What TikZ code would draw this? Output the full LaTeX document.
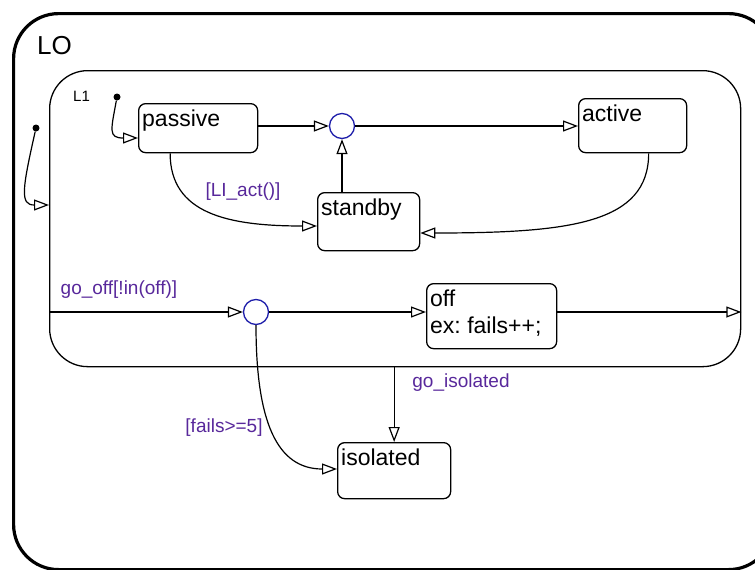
\documentclass[tikz,border=0pt]{standalone}
\usepackage{fontspec}
\setmainfont{Liberation Sans}
\usetikzlibrary{arrows.meta, positioning}
\definecolor{guardc}{RGB}{88,40,155}
\definecolor{juncc}{RGB}{30,30,170}

\begin{document}
\begin{tikzpicture}[x=1pt, y=-1pt]

\tikzset{chart/.style = {draw, anchor=north west, inner sep=0pt}}
\tikzset{state/.style = {chart, line width=1.3pt, rounded corners=7pt, label={[statetext]north west:#1}}}
\tikzset{statetext/.style = {anchor=north west, inner xsep=4pt, inner ysep=7pt, align=left, font=\fontsize{23}{27}\selectfont}}
\tikzset{junction/.style = {shape=circle, draw=juncc, line width=1.3pt, minimum size=25pt, inner sep=0pt}}
\tikzset{initdot/.style = {shape=circle, fill, minimum size=7pt, inner sep=0pt}}
\tikzset{guard/.style = {text=guardc, inner sep=0pt, font=\fontsize{19}{22}\selectfont}}
\tikzset{trans/.style = {-{Triangle[open, length=15pt, width=11pt]}, line width=1.2pt}}

\useasboundingbox (0,0) rectangle (755,570);
\clip (0,0) rectangle (755,570);

% superstates
\node[chart, line width=3.2pt, rounded corners=45pt, minimum width=760pt, minimum height=556pt] (lo) at (12,12) {};
\node[anchor=north west, inner sep=0pt, font=\fontsize{26}{30}\selectfont] (loname) at (37,36) {LO};
\node[chart, line width=1.3pt, rounded corners=38pt, minimum width=691pt, minimum height=296pt] (l1) at (49,70) {};
\node[anchor=north west, inner sep=0pt, font=\fontsize{15}{18}\selectfont] (l1name) at (73,91) {L1};

% states
\node[state=passive, minimum width=119pt, minimum height=49pt] (passive) at (138,103) {};
\node[state=active, minimum width=108pt, minimum height=54pt] (active) at (578,98) {};
\node[state=standby, minimum width=102pt, minimum height=58pt] (standby) at (317,192) {};
\node[state={off\\ex:\ fails++;}, minimum width=130pt, minimum height=65pt] (off) at (426,283) {};
\node[state=isolated, minimum width=113pt, minimum height=56pt] (isolated) at (337,442) {};

% junctions and default transitions
\node[junction] (j1) at (342,126) {};
\node[junction] (j2) at (256,312) {};
\node[initdot] (l1init) at (36,128) {};
\node[initdot] (pinit) at (117,97) {};

% guards
\node[guard] (actlbl) at (243,192) {[LI\_act()]};
\node[guard] (offlbl) at (119,290) {go\_off[!in(off)]};
\node[guard] (isolbl) at (461,383) {go\_isolated};
\node[guard] (faillbl) at (224,428) {[fails>=5]};

% transitions
\draw[trans] (l1init) .. controls (22,190) and (20,205) .. (l1.west |- 0,205);
\draw[trans] (pinit) .. controls (111,130) and (108,138) .. (passive.west |- 0,138);
\draw[trans] (passive.east |- j1) -- (j1);
\draw[trans] (j1) -- (active.west |- j1);
\draw[trans] (standby.north -| j1) -- (j1);
\draw[trans] ([xshift=16pt]active.south) .. controls +(0,70) and +(150,0) .. (standby.east |- 0,233);
\draw[trans] ([xshift=-28pt]passive.south) .. controls +(0,60) and +(-90,0) .. (standby.west |- 0,226);
\draw[trans] (l1.west |- j2) -- (j2);
\draw[trans] (j2) -- (off.west |- j2);
\draw[trans] (off.east |- j2) -- (l1.east |- j2);
\draw[trans] (j2) .. controls +(0,110) and +(-60,0) .. (isolated.west |- 0,469);
\draw[trans] (l1.south -| isolated.north) -- (isolated);

\end{tikzpicture}
\end{document}
